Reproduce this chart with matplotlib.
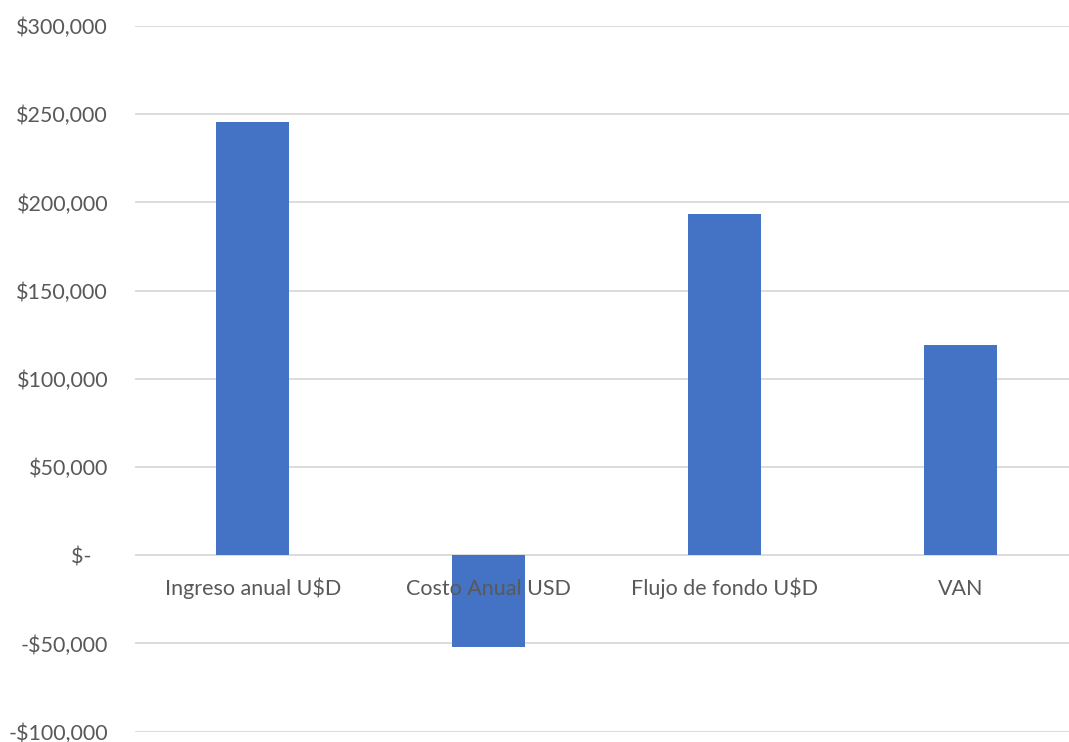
import matplotlib
matplotlib.use('Agg')
import matplotlib.pyplot as plt
from matplotlib.ticker import FuncFormatter, MultipleLocator

# Resumen financiero del proyecto
categorias = ["Ingreso anual U$D", "Costo Anual USD", "Flujo de fondo U$D", "VAN"]
valores = [245600, -52200, 193400, 119000]

BAR_COLOR = "#4472C4"
TEXT_COLOR = "#595959"
GRID_COLOR = "#D9D9D9"

plt.rcParams['font.family'] = ['Lato', 'DejaVu Sans']

fig = plt.figure(figsize=(10.69, 7.42), dpi=100)
ax = fig.add_axes([135 / 1069, 10.3 / 742, 1 - 135 / 1069, (731.7 - 26) / 742])

x = list(range(len(categorias)))
ax.bar(x, valores, width=0.31, color=BAR_COLOR, zorder=2)

ax.set_ylim(-100000, 300000)
ax.set_xlim(-0.5, 3.46)
ax.yaxis.set_major_locator(MultipleLocator(50000))


def fmt_usd(v, pos):
    if v == 0:
        return "$-   "
    if v < 0:
        return "-${:,.0f}".format(-v)
    return "${:,.0f}".format(v)


ax.yaxis.set_major_formatter(FuncFormatter(fmt_usd))
ax.tick_params(axis='y', length=0, pad=19.4, labelsize=15.5, labelcolor=TEXT_COLOR)
ax.set_xticks([])
ax.grid(axis='y', color=GRID_COLOR, linewidth=1.3, zorder=0)
for s in ax.spines.values():
    s.set_visible(False)

# etiquetas de categoria justo debajo del eje cero, por encima de las barras
for xi, cat in zip(x, categorias):
    ax.annotate(cat, xy=(xi, 0), xytext=(0, -24), textcoords='offset points',
                ha='center', va='center', fontsize=15.5, color=TEXT_COLOR, zorder=3)

fig.savefig("out.png", dpi=100)
